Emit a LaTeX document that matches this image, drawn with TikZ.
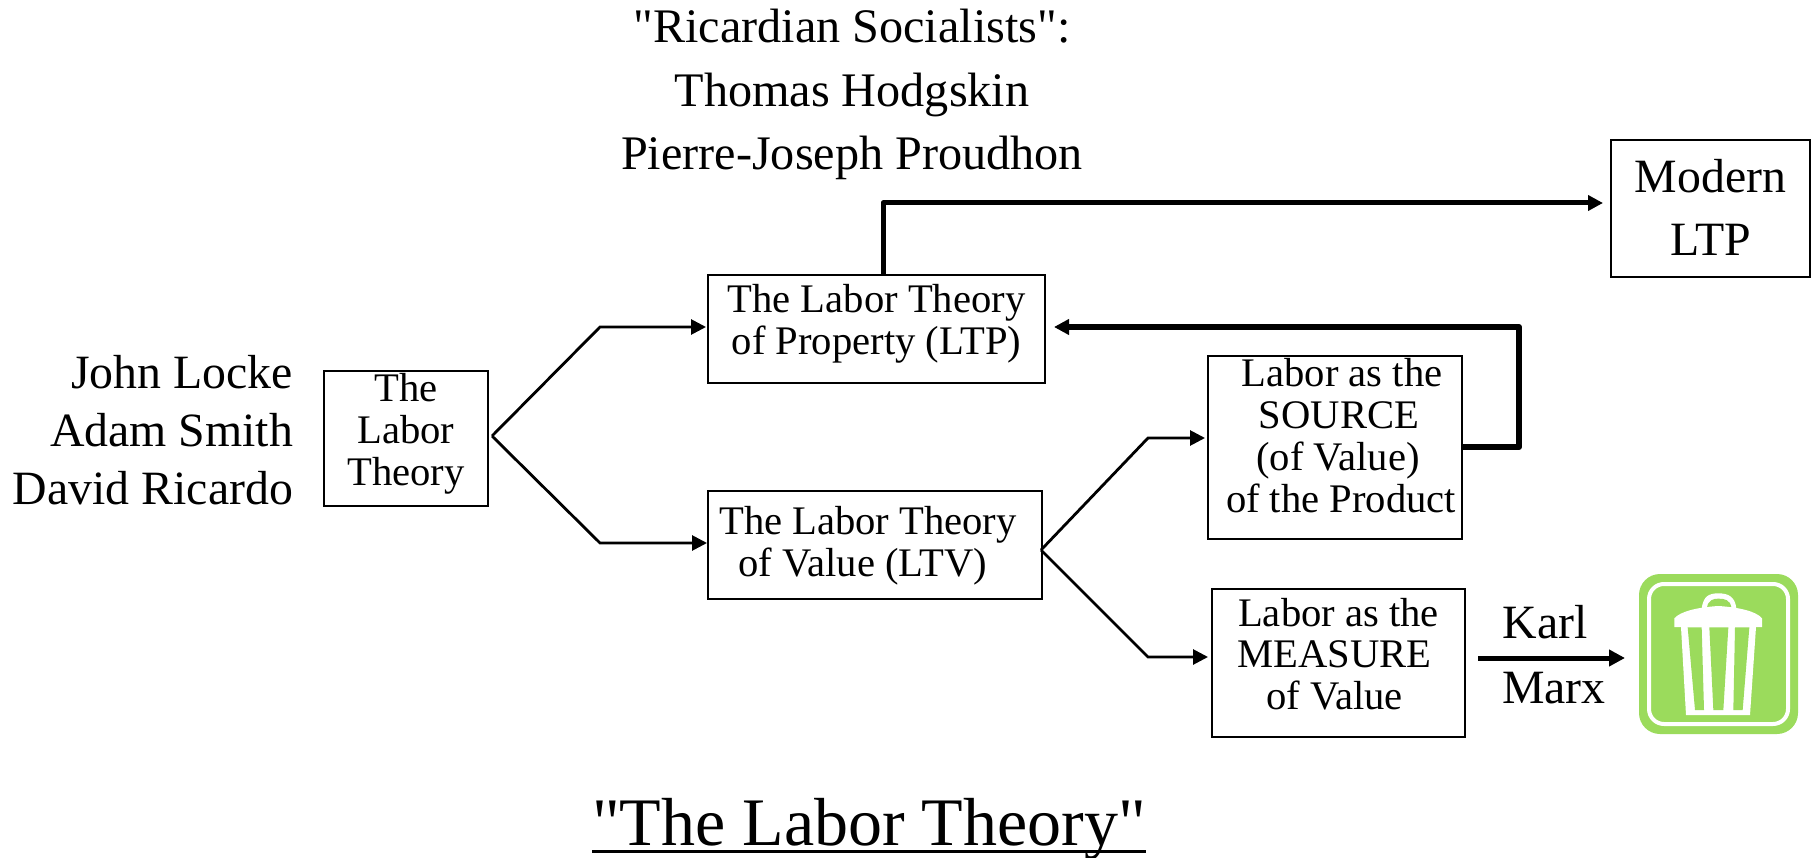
\documentclass[tikz,border=0pt]{standalone}
\usepackage{fontspec}
\newfontfamily\qserif{Liberation Serif}
\usetikzlibrary{arrows.meta}
\definecolor{trashgreen}{HTML}{9BDB5C}
\newcommand{\boxfont}{\qserif\fontsize{40.6}{41.8}\selectfont}
\newcommand{\bigfont}{\qserif\fontsize{47.8}{57.8}\selectfont}
\newcommand{\topfont}{\qserif\fontsize{48.2}{63.5}\selectfont}
\newcommand{\modfont}{\qserif\fontsize{47.8}{63}\selectfont}
\newcommand{\titlefont}{\qserif\fontsize{68}{70}\selectfont}
\tikzset{
  bx/.style={draw,line width=2.8pt,inner sep=0pt,outer sep=0pt,align=flush center,font=\boxfont,anchor=north west},
  plain/.style={inner sep=0pt,outer sep=0pt,anchor=base},
  thin link/.style={line width=2.8pt,line join=miter,-{Triangle[length=15pt,width=15pt]}},
  thick link/.style={line width=5pt,line join=round,-{Triangle[length=15pt,width=15pt]}}
}
\begin{document}
\begin{tikzpicture}[x=1pt,y=-1pt]
\useasboundingbox (0,0) rectangle (1812,858);
% text blocks
\node[plain,anchor=base,text width=600pt,align=flush center,font=\topfont] (top) at (852,43) {"Ricardian Socialists":\\Thomas Hodgskin\\Pierre-Joseph Proudhon};
\node[plain,anchor=base east,text width=320pt,align=flush right,font=\bigfont] (names) at (293,388.5) {John Locke\\Adam Smith\\David Ricardo};
% boxes
\node[bx,text width=164pt,text height=31pt,text depth=104pt] (lt) at (324,371) {The\\Labor\\Theory};
\node[bx,text width=337pt,text height=38pt,text depth=70pt] (ltp) at (708,275) {The Labor Theory\\of Property (LTP)};
\node[bx,text width=334pt,text height=43.5pt,text depth=64.5pt] (ltv) at (708,491) {\hspace*{-14pt}The Labor Theory\\\hspace*{-24pt}of Value (LTV)};
\node[bx,text width=254pt,text height=31pt,text depth=152pt] (src) at (1208,356) {\hspace*{14pt}Labor as the\\\hspace*{8pt}SOURCE\\\hspace*{6pt}(of Value)\\\hspace*{12pt}of the Product};
\node[bx,text width=253pt,text height=37pt,text depth=111pt] (msr) at (1212,589) {Labor as the\\\hspace*{-8pt}MEASURE\\\hspace*{-8pt}of Value};
\node[bx,text width=199pt,text height=53pt,text depth=84pt,font=\modfont] (mod) at (1611,140) {Modern\\LTP};
% fork coordinates
\coordinate (f1) at (492,436);
\coordinate (c1) at (600,327);
\coordinate (c2) at (600,543);
\coordinate (f2) at (1041,550);
\coordinate (c3) at (1148,438);
\coordinate (c4) at (1148,657);
\coordinate (c5) at (883,203);
\coordinate (c6) at (1519,447);
\coordinate (c7) at (1519,327);
\draw[thin link,shorten >=2pt] (f1) -- (c1) -- (c1 -| ltp.west);
\draw[thin link,shorten >=1pt] (f1) -- (c2) -- (c2 -| ltv.west);
\draw[thin link,shorten >=3pt] (f2) -- (c3) -- (c3 -| src.west);
\draw[thin link,shorten >=4pt] (f2) -- (c4) -- (c4 -| msr.west);
\draw[thick link,shorten >=8pt] (ltp.north -| c5) -- (c5) -- (c5 -| mod.west);
\draw[thick link,line width=6pt,shorten >=9pt] (c6 -| src.east) -- (c6) -- (c7) -- (c7 -| ltp.east);
% trash icon
\fill[trashgreen,rounded corners=21pt] (1639,574) rectangle (1798,734);
\draw[white,line width=4pt,rounded corners=15pt] (1649,584) rectangle (1788,724);
\begin{scope}[shift={(1450,550)},x=0.33333pt,y=-0.33333pt]
  % handle
  \fill[white] (755,175) .. controls (760,140) and (775,130) .. (805,130) .. controls (835,130) and (855,140) .. (859,175) -- cycle;
  \fill[trashgreen] (771,172) .. controls (775,150) and (790,146) .. (805,146) .. controls (825,146) and (840,150) .. (844,172) -- cycle;
  % lid
  \fill[white] (673,231) -- (673,205) .. controls (690,185) and (740,172) .. (805,168) .. controls (870,172) and (920,185) .. (936,205) -- (936,231) -- cycle;
  % body
  \fill[white] (693,231) -- (708,495) -- (900,495) -- (918,231) -- cycle;
  \fill[trashgreen] (713,232) -- (735,480) -- (762,480) -- (755,232) -- cycle;
  \fill[trashgreen] (778,232) -- (790,480) -- (820,480) -- (835,232) -- cycle;
  \fill[trashgreen] (855,232) -- (850,480) -- (878,480) -- (898,232) -- cycle;
\end{scope}
% Karl Marx
\coordinate (kstart) at (1478,658);
\coordinate (kend) at (1625,658);
\node[plain,font=\bigfont] (karl) at (1545,638) {Karl};
\node[plain,font=\bigfont] (marx) at (1554,703) {Marx};
\draw[line width=5pt,-{Triangle[length=16pt,width=16pt]}] (kstart) -- (kend);
% title
\node[plain,font=\titlefont] (title) at (869,845) {"The Labor Theory"};
\coordinate (ul) at (0,851);
\draw[line width=3pt] (title.west |- ul) -- (title.east |- ul);
\end{tikzpicture}
\end{document}
